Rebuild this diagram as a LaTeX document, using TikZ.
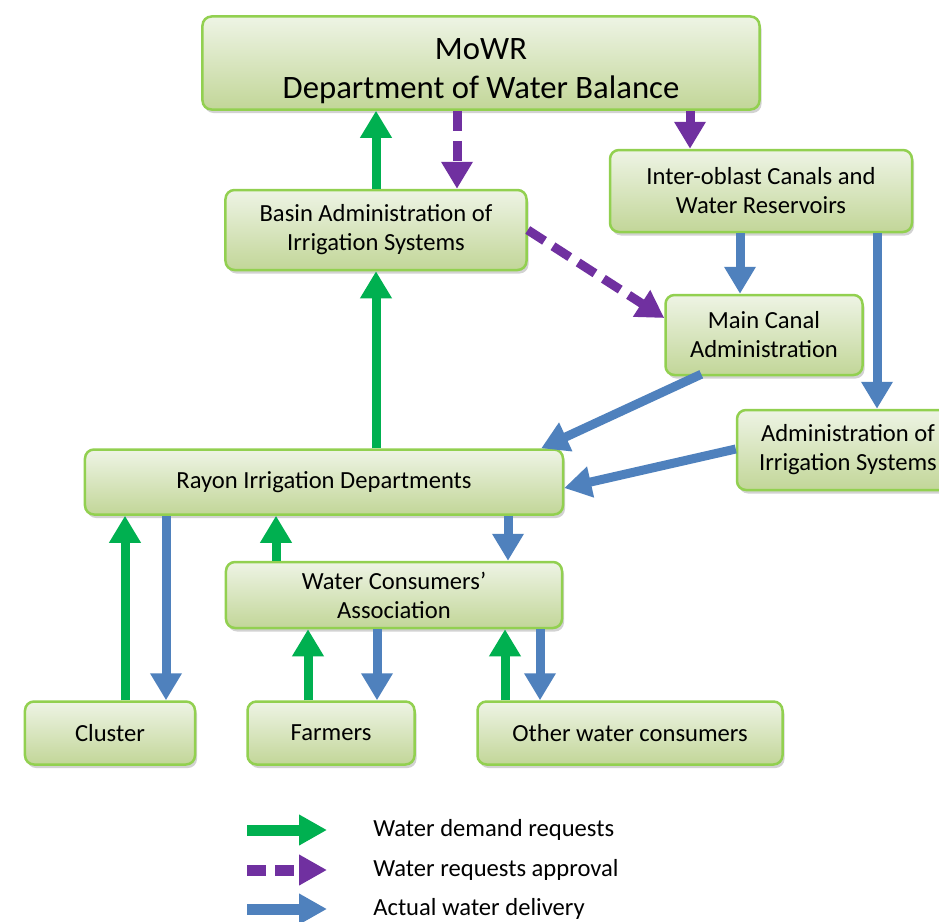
\documentclass[tikz,border=0pt]{standalone}
\usepackage{fontspec}
\setmainfont{Carlito}
\usetikzlibrary{arrows.meta,shadows}
\definecolor{boxtop}{RGB}{238,244,229}
\definecolor{boxbot}{RGB}{194,214,152}
\definecolor{boxedge}{RGB}{146,208,80}
\definecolor{demandgreen}{RGB}{0,176,80}
\definecolor{approvalviolet}{RGB}{112,48,160}
\definecolor{deliveryblue}{RGB}{79,129,189}
\tikzset{
  unit/.style={draw=boxedge,line width=0.5mm,rounded corners=1.8mm,
               top color=boxtop,bottom color=boxbot,
               drop shadow={opacity=0.35,shadow xshift=0.4mm,shadow yshift=-0.7mm},
               align=center,inner sep=1mm,font=\fontsize{14}{16.5}\selectfont},
  demand/.style={-{Triangle[length=5.4mm,width=6mm]},line width=1.8mm,draw=demandgreen},
  approval/.style={-{Triangle[length=5.4mm,width=6mm]},line width=1.8mm,draw=approvalviolet,
                   dash pattern=on 4mm off 2mm},
  approvalsolid/.style={-{Triangle[length=5.4mm,width=6mm]},line width=1.8mm,draw=approvalviolet},
  delivery/.style={-{Triangle[length=5.4mm,width=6mm]},line width=1.8mm,draw=deliveryblue},
  key/.style={line width=2.2mm,-{Triangle[length=5.6mm,width=5.8mm]}},
  legtext/.style={anchor=west,inner sep=0pt,font=\fontsize{14}{16}\selectfont},
}
\begin{document}
\begin{tikzpicture}[x=0.2mm,y=-0.2mm]
  \path[use as bounding box,fill=white] (0,0) rectangle (939,922);

  % boxes
  \node[unit,minimum width=111.4mm,minimum height=18.6mm,font=\fontsize{18.6}{22}\selectfont]
    (mowr) at (481,63) {\rule{0pt}{7.4mm}MoWR\\Department of Water Balance};
  \node[unit,minimum width=60.2mm,minimum height=16mm] (basin) at (376,230)
    {Basin Administration of\\Irrigation Systems};
  \node[unit,minimum width=60.4mm,minimum height=16.4mm] (interoblast) at (761,191)
    {Inter-oblast Canals and\\Water Reservoirs};
  \node[unit,minimum width=39.4mm,minimum height=16mm] (maincanal) at (764,335)
    {Main Canal\\Administration};
  \node[unit,minimum width=44.4mm,minimum height=16mm] (adminis) at (848,450)
    {Administration of\\Irrigation Systems};
  \node[unit,minimum width=95.6mm,minimum height=13mm] (rayon) at (324,482)
    {Rayon Irrigation Departments};
  \node[unit,minimum width=67.2mm,minimum height=13.2mm] (wca) at (394,595)
    {Water Consumers'\\Association};
  \node[unit,minimum width=34mm,minimum height=12.6mm] (cluster) at (110,733) {Cluster};
  \node[unit,minimum width=33.4mm,minimum height=12.6mm] (farmers) at (331,733) {Farmers};
  \node[unit,minimum width=61mm,minimum height=12.6mm] (others) at (630,733) {Other water consumers};

  % upper part
  \draw[demand] (basin.north) -- (basin.north |- mowr.south);
  \draw[approval] (mowr.south -| 457,0) -- (basin.north -| 457,0);
  \draw[approvalsolid] (mowr.south -| 690,0) -- (interoblast.north -| 690,0);
  \draw[delivery] (interoblast.south -| 740,0) -- (maincanal.north -| 740,0);
  \draw[delivery] (interoblast.south -| 877,0) -- (adminis.north -| 877,0);
  \draw[approval] (basin.east) -- (maincanal.west |- 0,318);
  \draw[delivery] ([xshift=7.4mm,yshift=0.4mm]maincanal.south west) -- ([xshift=-4.6mm]rayon.north east);
  \draw[delivery] (adminis.west |- 0,449) -- (rayon.east |- 0,488);
  \draw[demand] (rayon.north -| 376,0) -- (basin.south);

  % lower part
  \draw[demand] (cluster.north -| 125,0) -- (rayon.south -| 125,0);
  \draw[delivery] (rayon.south -| 166,0) -- (cluster.north -| 166,0);
  \draw[demand] (wca.north -| 276,0) -- (rayon.south -| 276,0);
  \draw[delivery] (rayon.south -| 508,0) -- (wca.north -| 508,0);
  \draw[demand] (farmers.north -| 308,0) -- (wca.south -| 308,0);
  \draw[delivery] (wca.south -| 377,0) -- (farmers.north -| 377,0);
  \draw[demand] (others.north -| 505,0) -- (wca.south -| 505,0);
  \draw[delivery] (wca.south -| 540,0) -- (others.north -| 540,0);

  % legend
  \coordinate (kdemand) at (247,830);
  \coordinate (kapproval) at (247,870);
  \coordinate (kdelivery) at (247,909);
  \node[legtext] (tdemand) at (373,830) {Water demand requests};
  \node[legtext] (tapproval) at (373,870) {Water requests approval};
  \node[legtext] (tdelivery) at (373,909) {Actual water delivery};
  \draw[key,draw=demandgreen] (kdemand) -- (kdemand -| 327,0);
  \draw[key,draw=approvalviolet,dash pattern=on 3.8mm off 1.8mm] (kapproval) -- (kapproval -| 327,0);
  \draw[key,draw=deliveryblue] (kdelivery) -- (kdelivery -| 327,0);
\end{tikzpicture}
\end{document}
